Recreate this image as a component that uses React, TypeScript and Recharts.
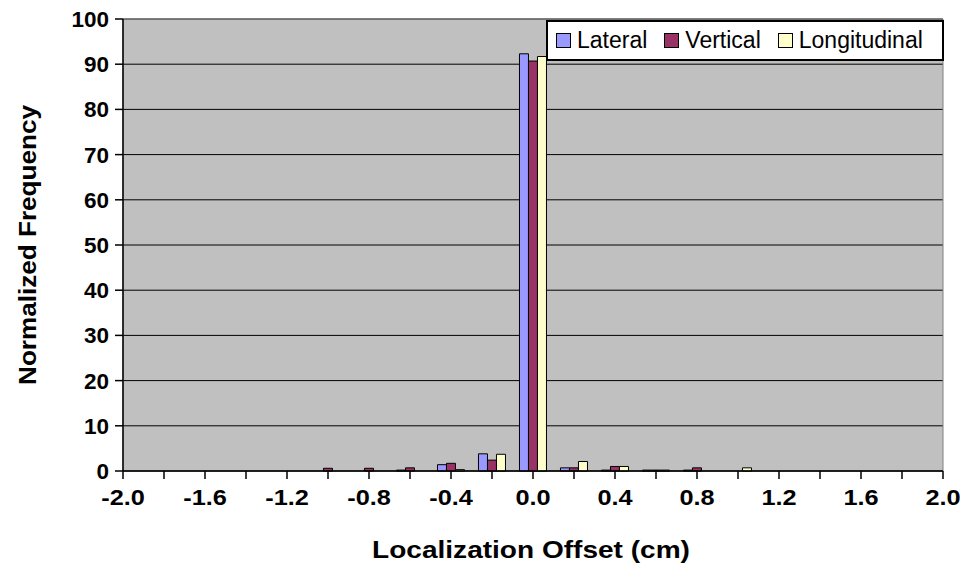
import React from 'react';
import { BarChart, Bar, XAxis, YAxis, CartesianGrid, Legend, ReferenceArea, Label } from 'recharts';

const offsets = [-2.0, -1.8, -1.6, -1.4, -1.2, -1.0, -0.8, -0.6, -0.4, -0.2, 0.0, 0.2, 0.4, 0.6, 0.8, 1.0, 1.2, 1.4, 1.6, 1.8, 2.0];
const xTickLabels = ['-2.0', '', '-1.6', '', '-1.2', '', '-0.8', '', '-0.4', '', '0.0', '', '0.4', '', '0.8', '', '1.2', '', '1.6', '', '2.0'];
const lateral = [0, 0, 0, 0, 0, 0, 0, 0.2, 1.4, 3.8, 92.3, 0.7, 0.2, 0.2, 0.2, 0, 0, 0, 0, 0, 0];
const vertical = [0, 0, 0, 0, 0, 0.6, 0.6, 0.7, 1.7, 2.4, 90.7, 0.7, 1.0, 0.2, 0.7, 0, 0, 0, 0, 0, 0];
const longitudinal = [0, 0, 0, 0, 0, 0, 0, 0, 0.3, 3.7, 91.7, 2.1, 1.0, 0.2, 0, 0.7, 0, 0, 0, 0, 0];
const yTicks = [0, 10, 20, 30, 40, 50, 60, 70, 80, 90, 100];
const seriesNames = ['Lateral', 'Vertical', 'Longitudinal'];
const seriesColors = ['#9999FF', '#993366', '#FFFFCC'];

const data = offsets.map((x, i) => ({
  x,
  lateral: lateral[i],
  vertical: vertical[i],
  longitudinal: longitudinal[i],
}));

const FONT = '"Liberation Sans", Arial, sans-serif';

const XTick = (props: any) => {
  const { x, y, payload } = props;
  const i = offsets.indexOf(payload.value);
  const label = i >= 0 ? xTickLabels[i] : '';
  if (!label) return null;
  return (
    <text
      x={0}
      y={0}
      transform={`translate(${x},${y + 24}) scale(1.15,1)`}
      textAnchor="middle"
      fontFamily={FONT}
      fontWeight="bold"
      fontSize={22}
      fill="#000"
    >
      {label}
    </text>
  );
};

const YTick = (props: any) => {
  const { x, y, payload } = props;
  return (
    <text x={x} y={y} dy={8} textAnchor="end" fontFamily={FONT} fontWeight="bold" fontSize={22.5} fill="#000">
      {payload.value}
    </text>
  );
};

const YTitle = (props: any) => {
  const vb = props.viewBox || { x: 0, y: 19, width: 123, height: 452 };
  const cx = vb.x + 28;
  const cy = vb.y + vb.height / 2;
  return (
    <text
      x={0}
      y={0}
      transform={`translate(${cx},${cy}) rotate(-90) scale(1.135,1)`}
      textAnchor="middle"
      dominantBaseline="central"
      fontFamily={FONT}
      fontWeight="bold"
      fontSize={23}
      fill="#000"
    >
      Normalized Frequency
    </text>
  );
};

const XTitle = (props: any) => {
  const vb = props.viewBox || { x: 123, y: 471, width: 820, height: 99 };
  const cx = vb.x + vb.width / 2 - 2;
  const cy = vb.y + 87;
  return (
    <text
      x={0}
      y={0}
      transform={`translate(${cx},${cy}) scale(1.22,1)`}
      textAnchor="middle"
      fontFamily={FONT}
      fontWeight="bold"
      fontSize={23}
      fill="#000"
    >
      Localization Offset (cm)
    </text>
  );
};

const LegendBox = () => (
  <div
    style={{
      display: 'flex',
      alignItems: 'center',
      background: '#fff',
      border: '2px solid #000',
      height: 37,
      padding: '0 19px 0 8px',
      fontFamily: FONT,
      fontSize: 23,
      color: '#000',
      boxSizing: 'content-box',
      whiteSpace: 'nowrap',
    }}
  >
    {seriesNames.map((n, i) => (
      <div key={n} style={{ display: 'flex', alignItems: 'center', marginRight: i < seriesNames.length - 1 ? 17 : 0 }}>
        <span
          style={{
            display: 'inline-block',
            width: 13,
            height: 13,
            background: seriesColors[i],
            border: '1px solid #000',
            marginRight: 6,
          }}
        />
        <span>{n}</span>
      </div>
    ))}
  </div>
);

export default function App() {
  return (
    <div style={{ position: 'absolute', left: 0, top: 0, width: 968, height: 570, background: '#fff' }}>
      <BarChart
        width={968}
        height={570}
        data={data}
        margin={{ top: 19, right: 25, left: 0, bottom: 0 }}
        barCategoryGap="17%"
        barGap={0}
      >
        <CartesianGrid horizontal vertical={false} fill="#C0C0C0" stroke="#000" strokeWidth={1} />
        <ReferenceArea x1={-2} x2={2} y1={0} y2={100} fill="none" fillOpacity={0} stroke="#808080" strokeWidth={1} />
        <Bar dataKey="lateral" name={seriesNames[0]} fill={seriesColors[0]} stroke="#000" strokeWidth={1} isAnimationActive={false} />
        <Bar dataKey="vertical" name={seriesNames[1]} fill={seriesColors[1]} stroke="#000" strokeWidth={1} isAnimationActive={false} />
        <Bar dataKey="longitudinal" name={seriesNames[2]} fill={seriesColors[2]} stroke="#000" strokeWidth={1} isAnimationActive={false} />
        <XAxis
          type="number"
          dataKey="x"
          domain={[-2, 2]}
          ticks={offsets}
          interval={0}
          height={99}
          tickSize={8}
          tickMargin={2}
          axisLine={{ stroke: '#000', strokeWidth: 1.5 }}
          tickLine={{ stroke: '#000', strokeWidth: 1.5 }}
          tick={<XTick />}
          allowDataOverflow
        >
          <Label content={<XTitle />} />
        </XAxis>
        <YAxis
          type="number"
          domain={[0, 100]}
          ticks={yTicks}
          interval={0}
          width={123}
          tickSize={8}
          tickMargin={6}
          axisLine={{ stroke: '#000', strokeWidth: 1.5 }}
          tickLine={{ stroke: '#000', strokeWidth: 1.5 }}
          tick={<YTick />}
        >
          <Label content={<YTitle />} />
        </YAxis>
        <Legend
          layout="horizontal"
          align="center"
          verticalAlign="middle"
          wrapperStyle={{ left: 546, top: 20, width: 'auto', height: 'auto' }}
          content={<LegendBox />}
        />
      </BarChart>
    </div>
  );
}
